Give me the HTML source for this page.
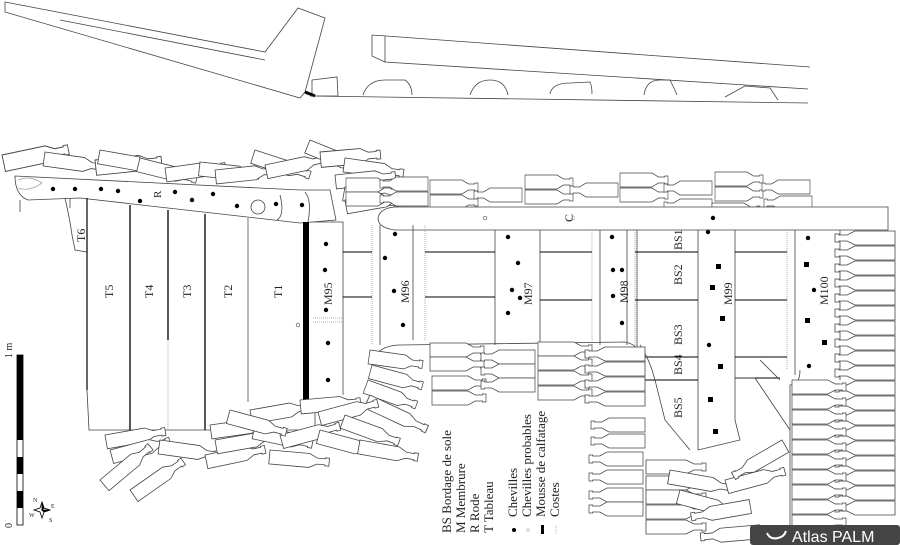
<!DOCTYPE html>
<html><head><meta charset="utf-8"><style>
html,body{margin:0;padding:0;background:#fff;}
svg{display:block;}
text{font-family:"Liberation Serif",serif;fill:#222;}
</style></head><body>
<svg width="900" height="545" viewBox="0 0 900 545" xmlns="http://www.w3.org/2000/svg">
<defs>
<path id="r" d="M0,0H40L48,4H56V3H60V11H56V10H48L40,14H0Z" fill="#fff" stroke="#444" stroke-width="0.8"/>
</defs>
<g fill="none" stroke="#444" stroke-width="0.8">
<!-- top left profile -->
<polygon points="5,2 265,52 298,8 325,18 305,92 300,98 5,12" fill="#fff"/>
<line x1="60" y1="20" x2="265" y2="60"/>
<path d="M312,80 L337,77 L338,96 L312,96Z"/>
<path d="M305,92 L315,96" stroke="#000" stroke-width="3"/>
<!-- top right profile -->
<path d="M372,35 L810,67 M372,35 L372,56 L385,62 M385,36 L385,62 L808,89"/>
<line x1="310" y1="96" x2="808" y2="103"/>
<path d="M363,95 Q368,80 385,80 L405,80 Q412,85 412,95"/>
<path d="M470,95 Q475,80 490,80 Q505,80 508,95"/>
<path d="M550,94 Q552,83 570,83 L590,82 Q592,86 592,94"/>
<path d="M644,95 Q646,80 660,80 L670,80 Q675,90 677,95"/>
<path d="M725,97 L745,86 L770,88 L778,100"/>
</g>

<!-- top-left cluster of bottles -->
<g>
<use href="#r" transform="translate(2,155) rotate(-12) scale(1.1,1.2)"/>
<use href="#r" transform="translate(45,152) rotate(8)"/>
<use href="#r" transform="translate(95,160) rotate(-6) scale(1.1,1.1)"/>
<use href="#r" transform="translate(100,150) rotate(10)"/>
<use href="#r" transform="translate(140,158) rotate(14)"/>
<use href="#r" transform="translate(165,168) rotate(-8)"/>
<use href="#r" transform="translate(200,162) rotate(6)"/>
<use href="#r" transform="translate(215,170) rotate(-6)"/>
<use href="#r" transform="translate(255,150) rotate(18)"/>
<use href="#r" transform="translate(265,165) rotate(-12)"/>
<use href="#r" transform="translate(310,140) rotate(22)"/>
<use href="#r" transform="translate(320,152) rotate(-5) scale(1.0,1.1)"/>
<use href="#r" transform="translate(345,158) rotate(8)"/>
<use href="#r" transform="translate(335,175) rotate(-6)"/>
<use href="#r" transform="translate(345,187) rotate(10)"/>
<use href="#r" transform="translate(345,200) rotate(-10)"/>
</g>
<!-- top row -->
<g>
<use href="#r" transform="translate(346,178) scale(0.8,1)"/>
<use href="#r" transform="translate(346,192) scale(0.8,1)"/>
<use href="#r" transform="translate(428,177) scale(-0.8,1)"/>
<use href="#r" transform="translate(428,192) scale(-0.8,1)"/>
<use href="#r" transform="translate(430,180) scale(0.8,1)"/>
<use href="#r" transform="translate(430,195) scale(0.8,1)"/>
<use href="#r" transform="translate(522,188) scale(-0.8,1)"/>
<use href="#r" transform="translate(525,175) scale(0.8,1)"/>
<use href="#r" transform="translate(525,190) scale(0.8,1)"/>
<use href="#r" transform="translate(618,183) scale(-0.8,1)"/>
<use href="#r" transform="translate(620,173) scale(0.8,1)"/>
<use href="#r" transform="translate(620,188) scale(0.8,1)"/>
<use href="#r" transform="translate(712,181) scale(-0.8,1)"/>
<use href="#r" transform="translate(712,199) scale(-0.8,1)"/>
<use href="#r" transform="translate(715,172) scale(0.8,1)"/>
<use href="#r" transform="translate(715,187) scale(0.8,1)"/>
<use href="#r" transform="translate(712,203) scale(0.8,1)"/>
<use href="#r" transform="translate(810,180) scale(-0.8,1)"/>
<use href="#r" transform="translate(812,196) scale(-0.8,1)"/>
<use href="#r" transform="translate(812,211) scale(-0.8,1)"/>
</g>

<g fill="none" stroke="#444" stroke-width="0.8">
<!-- rode -->
<path d="M15,176 L300,190 L330,190 L336,220 L300,223 L80,198 L28,200 Q15,195 15,176Z" fill="#fff"/>
<path d="M20,200 L20,212 M70,198 L70,208"/>
<path d="M18,180 Q30,175 42,183 Q30,192 18,188" stroke="#aaa"/>
<circle cx="258" cy="207" r="7" fill="#fff"/>
<path d="M280,195 Q285,215 277,220 M305,192 Q312,200 308,222"/>
<!-- keel -->
<path d="M395,207 L888,207 L888,230 L395,230 Q378,228 378,218 Q380,208 395,207Z" fill="#fff"/>
<!-- tableaux -->
<path d="M65,198 Q70,220 72,235 L75,250 L87,252"/>
<line x1="87" y1="198" x2="87" y2="390" stroke="#000" stroke-width="1.2"/>
<path d="M87,390 L89,430 L315,430 L315,400"/>
<line x1="130" y1="205" x2="130" y2="430" stroke="#000" stroke-width="1.3"/>
<line x1="168" y1="210" x2="168" y2="340" stroke="#000" stroke-width="1.3"/>
<line x1="168" y1="340" x2="168" y2="430" stroke="#999" stroke-dasharray="1,1"/>
<line x1="205" y1="214" x2="205" y2="430" stroke="#000" stroke-width="1.3"/>
<line x1="248" y1="218" x2="248" y2="402" stroke="#888" stroke-width="1.2"/>
<line x1="306" y1="222" x2="306" y2="402" stroke="#000" stroke-width="6"/>
<path d="M313,222 L343,222 L343,395"/>
<path d="M313,318 L343,318 M313,322 L343,322" stroke="#999" stroke-dasharray="1,1"/>
<!-- frames -->
<path d="M372,225 L372,345 M425,225 L425,340" stroke="#999" stroke-dasharray="1,1"/>
<path d="M380,225 L380,345 M413,225 L413,340"/>
<path d="M495,230 L495,345 M540,230 L540,345"/>
<path d="M592,230 L592,345 M635,230 L635,345" stroke="#999" stroke-dasharray="1,1"/>
<path d="M600,230 L600,345 M627,230 L627,345"/>
<path d="M698,230 L698,450 M735,230 L735,420"/>
<path d="M795,230 L795,375 M840,230 L840,380"/>
<path d="M787,230 L787,370" stroke="#999" stroke-dasharray="1,1"/>
<path d="M637,230 L637,360"/>
<!-- planks -->
<g stroke="#000" stroke-width="1">
<path d="M343,252 L372,252 M425,252 L495,252 M540,252 L592,252 M635,252 L698,252 M735,252 L787,252"/>
<path d="M343,297 L372,297 M425,297 L495,297 M540,300 L592,300 M635,300 L698,300 M735,300 L787,300"/>
<path d="M637,357 L698,357 M735,357 L787,357"/>
<path d="M637,380 L698,380 M735,378 L780,378"/>
</g>
<path d="M735,378 L755,378 L790,430 M760,360 L780,380 M698,450 L740,440 L735,420"/>
<path d="M800,370 Q800,385 790,385 L790,545"/>
<path d="M640,345 Q650,360 655,380 L665,420 L690,450"/>
<path d="M372,360 Q380,345 400,345 L625,342 Q640,345 642,360"/>
</g>

<!-- mid cluster bottles -->
<g>
<use href="#r" transform="translate(370,350) rotate(8) scale(0.9,1)"/>
<use href="#r" transform="translate(372,365) rotate(15) scale(0.9,1)"/>
<use href="#r" transform="translate(368,380) rotate(20) scale(0.9,1)"/>
<use href="#r" transform="translate(370,395) rotate(25) scale(1.1,1)"/>
<use href="#r" transform="translate(430,343) scale(0.9,1)"/>
<use href="#r" transform="translate(430,357) scale(0.9,1)"/>
<use href="#r" transform="translate(432,376) scale(0.9,1)"/>
<use href="#r" transform="translate(432,391) scale(0.9,1)"/>
<use href="#r" transform="translate(535,350) scale(-0.9,1)"/>
<use href="#r" transform="translate(535,364) scale(-0.9,1)"/>
<use href="#r" transform="translate(535,378) scale(-0.9,1)"/>
<use href="#r" transform="translate(538,342) scale(0.9,1)"/>
<use href="#r" transform="translate(538,356) scale(0.9,1)"/>
<use href="#r" transform="translate(538,371) scale(0.9,1)"/>
<use href="#r" transform="translate(538,386) scale(0.9,1)"/>
<use href="#r" transform="translate(645,347) scale(-1,1)"/>
<use href="#r" transform="translate(645,362) scale(-1,1)"/>
<use href="#r" transform="translate(645,377) scale(-1,1)"/>
<use href="#r" transform="translate(645,392) scale(-1,1)"/>
<use href="#r" transform="translate(645,418) scale(-0.9,1)"/>
<use href="#r" transform="translate(645,434) scale(-0.9,1)"/>
<use href="#r" transform="translate(643,452) scale(-0.9,1)"/>
<use href="#r" transform="translate(643,470) scale(-0.9,1)"/>
<use href="#r" transform="translate(643,488) scale(-0.9,1)"/>
<use href="#r" transform="translate(643,502) scale(-0.9,1)"/>
<use href="#r" transform="translate(646,460) scale(1,1)"/>
<use href="#r" transform="translate(646,476) scale(1,1)"/>
<use href="#r" transform="translate(646,490) scale(1,1)"/>
<use href="#r" transform="translate(646,505) scale(1,1)"/>
<use href="#r" transform="translate(646,520) scale(1,1)"/>
<use href="#r" transform="translate(670,470) rotate(10) scale(1.1,1)"/>
<use href="#r" transform="translate(680,490) rotate(15)"/>
<use href="#r" transform="translate(725,480) rotate(-15)"/>
<use href="#r" transform="translate(690,510) rotate(-10) scale(-1,1) translate(-60,0)"/>
<use href="#r" transform="translate(730,470) rotate(-30) scale(-1,1) translate(-60,0)"/>
<use href="#r" transform="translate(700,530) rotate(-5) scale(-1,1) translate(-60,0)"/>
</g>

<!-- right column bottles -->
<g>
<use href="#r" transform="translate(895,231) scale(-1,1)"/>
<use href="#r" transform="translate(895,246) scale(-1,1)"/>
<use href="#r" transform="translate(895,261) scale(-1,1)"/>
<use href="#r" transform="translate(895,276) scale(-1,1)"/>
<use href="#r" transform="translate(895,291) scale(-1,1)"/>
<use href="#r" transform="translate(895,306) scale(-1,1)"/>
<use href="#r" transform="translate(895,321) scale(-1,1)"/>
<use href="#r" transform="translate(895,336) scale(-1,1)"/>
<use href="#r" transform="translate(895,351) scale(-1,1)"/>
<use href="#r" transform="translate(895,366) scale(-1,1)"/>
<use href="#r" transform="translate(895,381) scale(-1,1)"/>
<use href="#r" transform="translate(895,396) scale(-1,1)"/>
<use href="#r" transform="translate(895,411) scale(-1,1)"/>
<use href="#r" transform="translate(895,426) scale(-1,1)"/>
<use href="#r" transform="translate(895,441) scale(-1,1)"/>
<use href="#r" transform="translate(895,456) scale(-1,1)"/>
<use href="#r" transform="translate(895,471) scale(-1,1)"/>
<use href="#r" transform="translate(895,486) scale(-1,1)"/>
<use href="#r" transform="translate(895,501) scale(-1,1)"/>
<use href="#r" transform="translate(792,380) scale(0.9,1)"/>
<use href="#r" transform="translate(792,395) scale(0.9,1)"/>
<use href="#r" transform="translate(792,410) scale(0.9,1)"/>
<use href="#r" transform="translate(792,425) scale(0.9,1)"/>
<use href="#r" transform="translate(792,440) scale(0.9,1)"/>
<use href="#r" transform="translate(792,455) scale(0.9,1)"/>
<use href="#r" transform="translate(792,470) scale(0.9,1)"/>
<use href="#r" transform="translate(792,485) scale(0.9,1)"/>
<use href="#r" transform="translate(792,500) scale(0.9,1)"/>
<use href="#r" transform="translate(792,515) scale(0.9,1)"/>
</g>

<!-- bottom left cluster -->
<g>
<use href="#r" transform="translate(105,435) rotate(-10)"/>
<use href="#r" transform="translate(110,450) rotate(-15)"/>
<use href="#r" transform="translate(130,490) rotate(-35)"/>
<use href="#r" transform="translate(100,480) rotate(-40)"/>
<use href="#r" transform="translate(160,440) rotate(8)"/>
<use href="#r" transform="translate(205,455) rotate(-12)"/>
<use href="#r" transform="translate(210,425) rotate(-8)"/>
<use href="#r" transform="translate(215,440) rotate(-10)"/>
<use href="#r" transform="translate(250,410) rotate(-10)"/>
<use href="#r" transform="translate(255,425) rotate(12)"/>
<use href="#r" transform="translate(280,435) rotate(-15)"/>
<use href="#r" transform="translate(300,400) rotate(-5)"/>
<use href="#r" transform="translate(318,412) rotate(-15)"/>
<use href="#r" transform="translate(320,430) rotate(15)"/>
<use href="#r" transform="translate(345,415) rotate(20)"/>
<use href="#r" transform="translate(360,440) rotate(10)"/>
<use href="#r" transform="translate(270,450) rotate(5)"/>
<use href="#r" transform="translate(230,410) rotate(15)"/>
</g>

<!-- pegs -->
<g fill="#000">
<circle cx="53" cy="189" r="2.2"/><circle cx="75" cy="189" r="2.2"/><circle cx="101" cy="189" r="2.2"/><circle cx="118" cy="191" r="2.2"/>
<circle cx="140" cy="201" r="2.2"/><circle cx="175" cy="192" r="2.2"/><circle cx="192" cy="200" r="2.2"/><circle cx="213" cy="194" r="2.2"/>
<circle cx="237" cy="206" r="2.2"/><circle cx="276" cy="204" r="2.2"/><circle cx="302" cy="205" r="2.2"/>
<circle cx="326" cy="244" r="2.2"/><circle cx="325" cy="270" r="2.2"/><circle cx="326" cy="310" r="2.2"/><circle cx="328" cy="343" r="2.2"/><circle cx="328" cy="380" r="2.2"/>
<circle cx="395" cy="234" r="2.2"/><circle cx="385" cy="258" r="2.2"/><circle cx="394" cy="291" r="2.2"/><circle cx="403" cy="325" r="2.2"/>
<circle cx="508" cy="237" r="2.2"/><circle cx="518" cy="263" r="2.2"/><circle cx="512" cy="290" r="2.2"/><circle cx="520" cy="298" r="2.2"/><circle cx="508" cy="313" r="2.2"/>
<circle cx="612" cy="237" r="2.2"/><circle cx="613" cy="270" r="2.2"/><circle cx="622" cy="270" r="2.2"/><circle cx="613" cy="296" r="2.2"/><circle cx="622" cy="323" r="2.2"/>
<circle cx="713" cy="218" r="2.2"/><circle cx="708" cy="232" r="2.2"/><circle cx="709" cy="345" r="2.2"/>
<circle cx="808" cy="238" r="2.2"/><circle cx="814" cy="290" r="2.2"/><circle cx="809" cy="366" r="2.2"/>
<rect x="716" y="264" width="5" height="5"/><rect x="710" y="285" width="5" height="5"/><rect x="720" y="316" width="5" height="5"/>
<rect x="718" y="364" width="5" height="5"/><rect x="708" y="397" width="5" height="5"/><rect x="713" y="429" width="5" height="5"/>
<rect x="804" y="262" width="5" height="5"/><rect x="805" y="318" width="5" height="5"/><rect x="822" y="340" width="5" height="5"/>
</g>
<g fill="none" stroke="#555" stroke-width="0.7">
<circle cx="298" cy="325" r="1.8"/><circle cx="485" cy="218" r="1.8"/><circle cx="573" cy="218" r="1.8" stroke="#bbb"/>
</g>

<!-- labels (rotated) -->
<g font-size="12">
<text transform="translate(85,242) rotate(-90)">T6</text>
<text transform="translate(161,198) rotate(-90)" font-size="11">R</text>
<text transform="translate(113,298) rotate(-90)">T5</text>
<text transform="translate(153,298) rotate(-90)">T4</text>
<text transform="translate(191,298) rotate(-90)">T3</text>
<text transform="translate(232,298) rotate(-90)">T2</text>
<text transform="translate(282,298) rotate(-90)">T1</text>
<text transform="translate(332,305) rotate(-90)">M95</text>
<text transform="translate(409,303) rotate(-90)">M96</text>
<text transform="translate(532,305) rotate(-90)">M97</text>
<text transform="translate(628,303) rotate(-90)">M98</text>
<text transform="translate(732,305) rotate(-90)">M99</text>
<text transform="translate(828,305) rotate(-90)">M100</text>
<text transform="translate(682,250) rotate(-90)">BS1</text>
<text transform="translate(682,285) rotate(-90)">BS2</text>
<text transform="translate(682,345) rotate(-90)">BS3</text>
<text transform="translate(682,375) rotate(-90)">BS4</text>
<text transform="translate(682,418) rotate(-90)">BS5</text>
<text transform="translate(573,222) rotate(-90)">C</text>
</g>

<!-- legend -->
<g font-size="13">
<text transform="translate(451,533) rotate(-90)">BS Bordage de sole</text>
<text transform="translate(465,533) rotate(-90)">M  Membrure</text>
<text transform="translate(479,533) rotate(-90)">R  Rode</text>
<text transform="translate(493,533) rotate(-90)">T  Tableau</text>
<text transform="translate(517,517) rotate(-90)">Chevilles</text>
<text transform="translate(531,517) rotate(-90)">Chevilles probables</text>
<text transform="translate(545,517) rotate(-90)">Mousse de calfatage</text>
<text transform="translate(559,517) rotate(-90)">Costes</text>
</g>
<circle cx="514" cy="530" r="2" fill="#000"/>
<circle cx="528" cy="530" r="2" fill="#ddd"/>
<rect x="541" y="525" width="3" height="9" fill="#000"/>
<line x1="556" y1="525" x2="556" y2="534" stroke="#bbb" stroke-dasharray="1,1"/>

<!-- scale -->
<rect x="17" y="355" width="6" height="170" fill="#fff" stroke="#000" stroke-width="0.8"/>
<rect x="17" y="355" width="6" height="85" fill="#000"/>
<rect x="17" y="457" width="6" height="17" fill="#000"/>
<rect x="17" y="491" width="6" height="17" fill="#000"/>
<text transform="translate(12,358) rotate(-90)" font-size="10">1 m</text>
<text transform="translate(12,528) rotate(-90)" font-size="10">0</text>
<g stroke="#000" stroke-width="0.8" fill="#000">
<path d="M42,502 L44,508 L50,510 L44,512 L42,518 L40,512 L34,510 L40,508Z" fill="#fff"/>
<path d="M42,502 L44,508 L42,510Z M50,510 L44,512 L42,510Z"/>
</g>
<text x="33" y="502" font-size="6">N</text><text x="51" y="508" font-size="6">E</text>
<text x="29" y="517" font-size="6">W</text><text x="49" y="522" font-size="6">S</text>

<!-- badge -->
<rect x="750" y="525" width="150" height="20" rx="3" fill="#444"/>
<path d="M767,533 Q770,540 778,538 Q784,537 786,531" fill="none" stroke="#fff" stroke-width="2"/>
<text x="792" y="542" font-size="16" style="fill:#fff;font-family:'Liberation Sans',sans-serif">Atlas PALM</text>
</svg>
</body></html>
